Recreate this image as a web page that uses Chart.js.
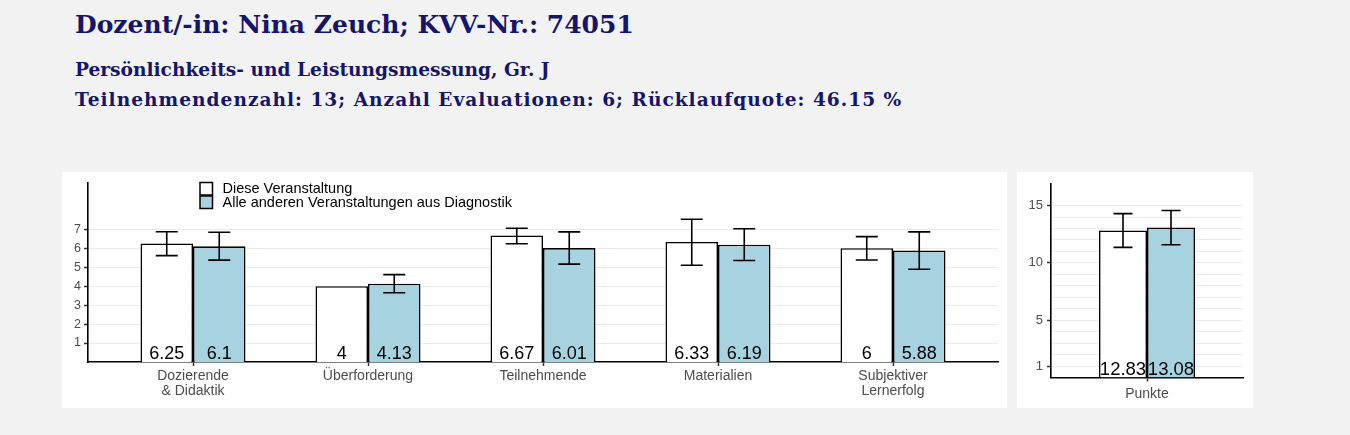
<!DOCTYPE html>
<html>
<head>
<meta charset="utf-8">
<script src="https://cdn.jsdelivr.net/npm/chart.js@4.4.0/dist/chart.umd.min.js"></script>
<style>
body { margin: 0; width: 1350px; height: 435px; overflow: hidden; position: relative;
       background: #f2f2f3; font-family: "Liberation Sans", Arial, sans-serif; }
.head { position: absolute; left: 75px; color: #15156b; font-family: "DejaVu Serif", serif;
        font-weight: bold; white-space: nowrap; line-height: 1; }
#h1 { top: 12px; font-size: 25px; }
#h2 { top: 61px; font-size: 18.6px; }
#h3 { top: 91px; font-size: 18.6px; letter-spacing: 1px; }
.panel { position: absolute; background: #fff; }
#mainBox { left: 62px; top: 172px; width: 945px; height: 236px; }
#sideBox { left: 1017px; top: 172px; width: 236px; height: 236px; }
</style>
</head>
<body>
<div class="head" id="h1">Dozent/-in: Nina Zeuch; KVV-Nr.: 74051</div>
<div class="head" id="h2">Persönlichkeits- und Leistungsmessung, Gr. J</div>
<div class="head" id="h3">Teilnehmendenzahl: 13; Anzahl Evaluationen: 6; Rücklaufquote: 46.15 %</div>
<div class="panel" id="mainBox"><canvas id="mainChart" width="945" height="236"></canvas></div>
<div class="panel" id="sideBox"><canvas id="sideChart" width="236" height="236"></canvas></div>
<script>
// scale categories
const categories = [["Dozierende", "& Didaktik"], "Überforderung", "Teilnehmende", "Materialien", ["Subjektiver", "Lernerfolg"]];
const seriesNames = ["Diese Veranstaltung", "Alle anderen Veranstaltungen aus Diagnostik"];
const thisCourse = [6.25, 4, 6.67, 6.33, 6];
const otherCourses = [6.1, 4.13, 6.01, 6.19, 5.88];
const thisLow = [5.61, null, 6.24, 5.10, 5.38];
const thisHigh = [6.87, null, 7.05, 7.53, 6.61];
const otherLow = [5.37, 3.65, 5.16, 5.35, 4.89];
const otherHigh = [6.84, 4.61, 6.86, 7.03, 6.86];
const yTicks = [1, 2, 3, 4, 5, 6, 7];

// Punkte panel
const pointsCategory = ["Punkte"];
const pointsThis = [12.83];
const pointsOther = [13.08];
const pointsThisLow = [11.35];
const pointsThisHigh = [14.30];
const pointsOtherLow = [11.58];
const pointsOtherHigh = [14.57];
const pointsGrid = [1, 2, 3, 4, 5, 6, 7, 8, 9, 10, 11, 12, 13, 14, 15];
const pointsTickLabels = [1, 5, 10, 15];

const white = "#ffffff";
const blue = "#a7d3e1";

Chart.defaults.font.family = '"Liberation Sans", Arial, sans-serif';
Chart.defaults.animation = false;

const errorBars = {
    id: "errorBars",
    afterDatasetsDraw(chart, args, opts) {
        const ctx = chart.ctx;
        const y = chart.scales.y;
        ctx.save();
        ctx.strokeStyle = "#000";
        ctx.lineWidth = 1.6;
        chart.data.datasets.forEach(function (ds, d) {
            chart.getDatasetMeta(d).data.forEach(function (bar, i) {
                if (ds.low[i] == null) return;
                var top = y.getPixelForValue(ds.high[i]);
                var bot = y.getPixelForValue(ds.low[i]);
                ctx.beginPath();
                ctx.moveTo(bar.x, top); ctx.lineTo(bar.x, bot);
                ctx.moveTo(bar.x - opts.cap, top); ctx.lineTo(bar.x + opts.cap, top);
                ctx.moveTo(bar.x - opts.cap, bot); ctx.lineTo(bar.x + opts.cap, bot);
                ctx.stroke();
            });
        });
        ctx.restore();
    }
};

const valueLabels = {
    id: "valueLabels",
    afterDatasetsDraw(chart, args, opts) {
        const ctx = chart.ctx;
        ctx.save();
        ctx.fillStyle = "#000";
        ctx.font = opts.size + 'px "Liberation Sans", Arial, sans-serif';
        ctx.textAlign = "center";
        ctx.textBaseline = "alphabetic";
        chart.data.datasets.forEach(function (ds, d) {
            chart.getDatasetMeta(d).data.forEach(function (bar, i) {
                var v = ds.data[i];
                if (typeof v === "object") v = v.y;
                ctx.fillText(String(v), bar.x, chart.scales.y.bottom - 3);
            });
        });
        ctx.restore();
    }
};

const boxLegend = {
    id: "boxLegend",
    afterDraw(chart) {
        const ctx = chart.ctx;
        const x = 138, y0 = 10.5, size = 12.5;
        ctx.save();
        ctx.font = '14.5px "Liberation Sans", Arial, sans-serif';
        ctx.textBaseline = "middle";
        ctx.lineWidth = 1.5;
        [white, blue].forEach(function (c, i) {
            var y = y0 + i * 13.5;
            ctx.fillStyle = c;
            ctx.fillRect(x, y, size, size);
            ctx.strokeStyle = "#000";
            ctx.strokeRect(x, y, size, size);
            ctx.fillStyle = "#000";
            ctx.fillText(seriesNames[i], x + 22.5, y + size / 2 + 0.5);
        });
        ctx.restore();
    }
};

function pairs(values) {
    return values.map(function (v, i) { return { x: i, y: v }; });
}

new Chart("mainChart", {
    type: "bar",
    data: {
        datasets: [
            { label: seriesNames[0], data: pairs(thisCourse), low: thisLow, high: thisHigh,
              backgroundColor: white, borderColor: "#000", borderWidth: 1.6 },
            { label: seriesNames[1], data: pairs(otherCourses), low: otherLow, high: otherHigh,
              backgroundColor: blue, borderColor: "#000", borderWidth: 1.6 }
        ]
    },
    options: {
        responsive: false,
        categoryPercentage: 0.6,
        barPercentage: 1,
        layout: { padding: { top: 11, right: 9, left: 0, bottom: 0 } },
        plugins: {
            legend: { display: false },
            tooltip: { enabled: false },
            errorBars: { cap: 11 },
            valueLabels: { size: 18 }
        },
        scales: {
            x: {
                type: "linear", min: -0.6, max: 4.6, offset: false,
                afterBuildTicks: function (s) { s.ticks = categories.map(function (c, i) { return { value: i }; }); },
                afterFit: function (s) { s.height = 46; },
                ticks: {
                    callback: function (v) { return categories[v]; },
                    autoSkip: false, maxRotation: 0, color: "#4d4d4d", padding: 3,
                    font: { size: 14, lineHeight: 1.07 }
                },
                grid: { drawOnChartArea: false, offset: false, tickLength: 4, tickColor: "#333", tickWidth: 1.5 },
                border: { color: "#000", width: 1.6 }
            },
            y: {
                min: 0, max: 9.44,
                afterBuildTicks: function (s) { s.ticks = yTicks.map(function (v) { return { value: v }; }); },
                afterFit: function (s) { s.width = 26; },
                ticks: { color: "#4d4d4d", padding: 3, font: { size: 12.5 }, autoSkip: false },
                grid: { color: "#ebebeb", tickLength: 4, tickColor: "#333", tickWidth: 1.5 },
                border: { color: "#000", width: 1.6 }
            }
        }
    },
    plugins: [errorBars, valueLabels, boxLegend]
});

new Chart("sideChart", {
    type: "bar",
    data: {
        labels: pointsCategory,
        datasets: [
            { data: pointsThis, low: pointsThisLow, high: pointsThisHigh,
              backgroundColor: white, borderColor: "#000", borderWidth: 1.6 },
            { data: pointsOther, low: pointsOtherLow, high: pointsOtherHigh,
              backgroundColor: blue, borderColor: "#000", borderWidth: 1.6 }
        ]
    },
    options: {
        responsive: false,
        categoryPercentage: 0.5,
        barPercentage: 1,
        layout: { padding: { top: 11, right: 10, left: 0, bottom: 0 } },
        plugins: {
            legend: { display: false },
            tooltip: { enabled: false },
            errorBars: { cap: 9.5 },
            valueLabels: { size: 18.5 }
        },
        scales: {
            x: {
                afterFit: function (s) { s.height = 30.5; },
                ticks: { color: "#4d4d4d", padding: 4, font: { size: 14 } },
                grid: { drawOnChartArea: false, offset: false, tickLength: 4, tickColor: "#333", tickWidth: 1.5 },
                border: { color: "#000", width: 1.6 }
            },
            y: {
                min: 0, max: 16.9,
                afterBuildTicks: function (s) { s.ticks = pointsGrid.map(function (v) { return { value: v }; }); },
                afterFit: function (s) { s.width = 34; },
                ticks: {
                    color: "#4d4d4d", padding: 4, font: { size: 13 }, autoSkip: false,
                    callback: function (v) { return pointsTickLabels.indexOf(v) >= 0 ? String(v) : ""; }
                },
                grid: {
                    color: "#ebebeb", tickLength: 4, tickWidth: 1.5,
                    tickColor: function (c) { return pointsTickLabels.indexOf(c.tick.value) >= 0 ? "#333" : "rgba(0,0,0,0)"; }
                },
                border: { color: "#000", width: 1.6 }
            }
        }
    },
    plugins: [errorBars, valueLabels]
});
</script>
</body>
</html>
